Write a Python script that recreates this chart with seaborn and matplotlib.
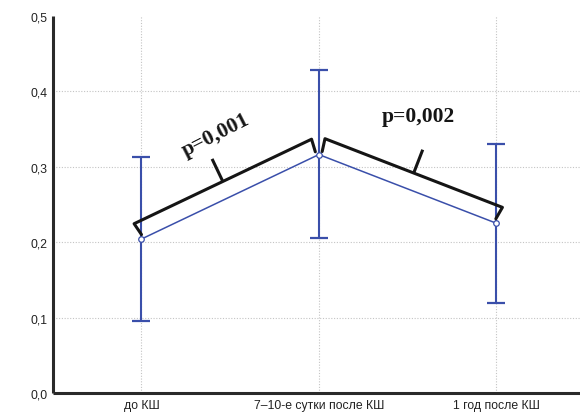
import numpy as np
import pandas as pd
import matplotlib
matplotlib.use("Agg")
import matplotlib.pyplot as plt
import seaborn as sns

# ---- data ----
categories = ["до КШ", "7–10-е сутки после КШ", "1 год после КШ"]
means = [0.204, 0.316, 0.225]
upper = [0.313, 0.428, 0.330]
lower = [0.096, 0.206, 0.119]
y_ticks = [0.0, 0.1, 0.2, 0.3, 0.4, 0.5]
y_tick_labels = ["0,0", "0,1", "0,2", "0,3", "0,4", "0,5"]
p_labels = ["p=0,001", "p=0,002"]

blue = "#3a4faa"
sns.set_style("white")
plt.rcParams["font.family"] = ["Liberation Sans", "DejaVu Sans"]

W, H = 580, 414
fig = plt.figure(figsize=(W / 100, H / 100), dpi=100)
ax = fig.add_axes([52.7 / W, (H - 394) / H, (585 - 52.7) / W, (394 - 16.7) / H])

pos = np.arange(len(categories))
df = pd.DataFrame({"pos": pos, "mean": means})

ax.set_xlim(-0.5, 2.5)
ax.set_ylim(0, 0.5)

# grid
for x in pos:
    ax.axvline(x, color="#c4c4c4", lw=0.8, ls=(0, (1, 1.5)), zorder=0)
for y in y_ticks[1:-1]:
    ax.axhline(y, color="#c4c4c4", lw=0.8, ls=(0, (1, 1.5)), zorder=0)

# error bars
yerr = np.array([np.array(means) - np.array(lower), np.array(upper) - np.array(means)])
ax.errorbar(pos, means, yerr=yerr, fmt="none", ecolor=blue, elinewidth=1.5,
            capsize=6.5, capthick=1.6, zorder=2)

sns.lineplot(data=df, x="pos", y="mean", ax=ax, color=blue, lw=1.1,
             marker="o", markersize=4, markerfacecolor="white",
             markeredgecolor=blue, markeredgewidth=0.9, zorder=3)

ax.set_xticks(pos)
ax.set_xticklabels(categories, fontsize=8.8, color="#222222")
ax.set_yticks(y_ticks)
ax.set_yticklabels(y_tick_labels, fontsize=8.8, color="#222222")
ax.set_xlabel("")
ax.set_ylabel("")
ax.tick_params(axis="y", direction="in", length=4, width=1.2, color="#333333", pad=4)
ax.tick_params(axis="x", direction="inout", length=5, width=1.2, color="#333333", pad=1.5)

for s in ["top", "right"]:
    ax.spines[s].set_visible(False)
for s in ["left", "bottom"]:
    ax.spines[s].set_color("#2a2a2a")
    ax.spines[s].set_linewidth(2.2)
    ax.spines[s].set_capstyle("butt")

# brackets (display-space construction from data points)
fig.canvas.draw()
T = ax.transData
Ti = T.inverted()
pts = T.transform(np.column_stack([pos, means]))
off = 17.0   # px offset perpendicular
leg = 4.0
tick_len = 25.0
for i in range(2):
    P0, P1 = pts[i], pts[i + 1]
    d = P1 - P0
    u = d / np.hypot(*d)
    n = np.array([-u[1], u[0]])
    if n[1] < 0:
        n = -n
    a = P0 + n * leg + u * 2
    b = P0 + n * off + u * 0
    c = P1 + n * off - u * 0
    e = P1 + n * leg - u * 2
    path = Ti.transform(np.array([a, b, c, e]))
    ax.plot(path[:, 0], path[:, 1], color="#151515", lw=2.2, solid_joinstyle="round",
            solid_capstyle="round", zorder=4, clip_on=False)
    m = (P0 + P1) / 2 + n * off
    mt = m + n * tick_len
    tk = Ti.transform(np.array([m, mt]))
    ax.plot(tk[:, 0], tk[:, 1], color="#151515", lw=2.2, zorder=4, solid_capstyle="butt")

# p labels
ang0 = np.degrees(np.arctan2(pts[1][1] - pts[0][1], pts[1][0] - pts[0][0]))
ax.text(0.42, 0.343, p_labels[0], rotation=ang0 + 1.5, rotation_mode="anchor",
        ha="center", va="center", fontsize=15.5, fontweight="bold",
        family=["Liberation Serif", "DejaVu Serif"], color="#151515", zorder=5)
ax.text(1.56, 0.367, p_labels[1], ha="center", va="center", fontsize=15.5,
        fontweight="bold", family=["Liberation Serif", "DejaVu Serif"],
        color="#151515", zorder=5)

fig.savefig("out.png", dpi=100)
